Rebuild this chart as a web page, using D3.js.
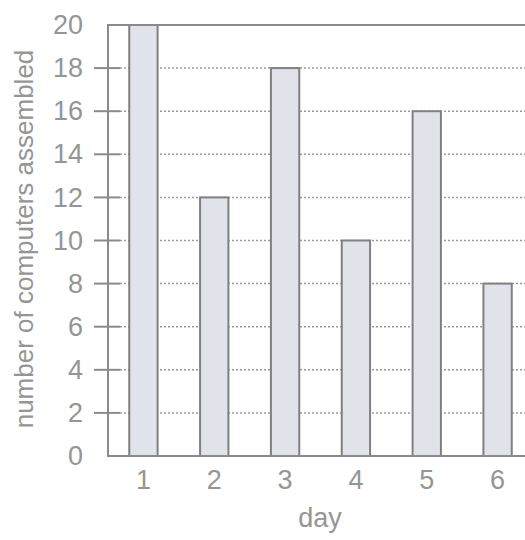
<!DOCTYPE html>
<html>
<head>
<meta charset="utf-8">
<script src="https://cdn.jsdelivr.net/npm/d3@7"></script>
<style>
  body { margin: 0; background: #fff; }
  svg { display: block; font-family: "Liberation Sans", Arial, sans-serif; }
</style>
</head>
<body>
<script>
// data
const days = [1, 2, 3, 4, 5, 6];
const computers = [20, 12, 18, 10, 16, 8];
const yTicks = [0, 2, 4, 6, 8, 10, 12, 14, 16, 18, 20];

const width = 525, height = 540;
const plotLeft = 108, plotTop = 25, plotBottom = 456, plotRight = 533;
const grey = '#8a8a8a';
const textGrey = '#959595';

const svg = d3.select('body').append('svg')
  .attr('width', width)
  .attr('height', height);

const x = d3.scaleBand()
  .domain(days)
  .range([plotLeft, plotRight])
  .paddingInner(0.6)
  .paddingOuter(0.3);

const y = d3.scaleLinear()
  .domain([0, 20])
  .range([plotBottom, plotTop]);

/* dotted gridlines */
svg.append('g')
  .selectAll('line')
  .data(yTicks.filter(d => d > 0 && d < 20))
  .enter().append('line')
  .attr('x1', plotLeft + 12)
  .attr('x2', width)
  .attr('y1', d => y(d))
  .attr('y2', d => y(d))
  .attr('stroke', '#9a9a9a')
  .attr('stroke-width', 1.5)
  .attr('stroke-dasharray', '2,2');

/* bars */
svg.append('g')
  .selectAll('rect')
  .data(computers)
  .enter().append('rect')
  .attr('x', (d, i) => x(days[i]))
  .attr('y', d => y(d))
  .attr('width', x.bandwidth())
  .attr('height', d => plotBottom - y(d))
  .attr('fill', '#e1e3ea')
  .attr('stroke', '#808080')
  .attr('stroke-width', 2);

/* frame: top, left, bottom */
svg.append('path')
  .attr('d', `M${width},${plotTop}H${plotLeft}V${plotBottom}H${width}`)
  .attr('fill', 'none')
  .attr('stroke', grey)
  .attr('stroke-width', 2);

/* y axis */
const yAxis = d3.axisLeft(y)
  .tickValues(yTicks)
  .tickSize(0)
  .tickPadding(25);

const gy = svg.append('g')
  .attr('transform', `translate(${plotLeft},0)`)
  .call(yAxis);
gy.select('.domain').remove();
gy.selectAll('text')
  .attr('fill', textGrey)
  .attr('font-size', 27)
  .attr('font-family', '"Liberation Sans", Arial, sans-serif');

// tick marks crossing the axis (none at 0 or 20)
svg.append('g')
  .selectAll('line')
  .data(yTicks.filter(d => d > 0 && d < 20))
  .enter().append('line')
  .attr('x1', plotLeft - 14)
  .attr('x2', plotLeft + 12)
  .attr('y1', d => y(d))
  .attr('y2', d => y(d))
  .attr('stroke', grey)
  .attr('stroke-width', 2);

/* x axis labels */
const xAxis = d3.axisBottom(x).tickSize(0).tickPadding(14);
const gx = svg.append('g')
  .attr('transform', `translate(0,${plotBottom})`)
  .call(xAxis);
gx.select('.domain').remove();
gx.selectAll('text')
  .attr('fill', textGrey)
  .attr('font-size', 27)
  .attr('font-family', '"Liberation Sans", Arial, sans-serif');

/* axis titles */
svg.append('text')
  .attr('x', 320)
  .attr('y', 527)
  .attr('text-anchor', 'middle')
  .attr('fill', textGrey)
  .attr('font-size', 27)
  .text('day');

svg.append('text')
  .attr('transform', 'translate(33,239) rotate(-90)')
  .attr('text-anchor', 'middle')
  .attr('fill', textGrey)
  .attr('font-size', 26)
  .text('number of computers assembled');
</script>
</body>
</html>
